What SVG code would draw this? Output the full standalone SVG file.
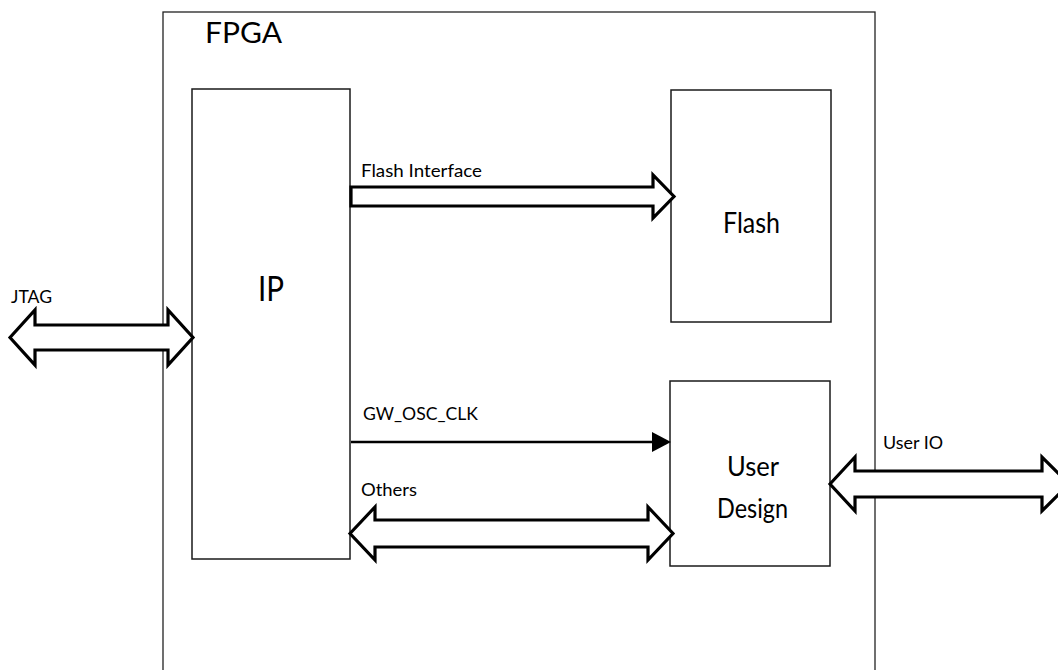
<svg xmlns="http://www.w3.org/2000/svg" width="1058" height="670" viewBox="0 0 1058 670">
<style>
.box{fill:#fff;stroke:#1a1a1a;stroke-width:1.5}
.outer{fill:#fff;stroke:#222;stroke-width:1.3}
.fat{fill:#fff;stroke:#000;stroke-width:3.2;stroke-linejoin:miter}
.lbl{font-family:Lato,"Open Sans","Liberation Sans",sans-serif;fill:#000}
.s{font-size:16.5px}
</style>
<rect width="1058" height="670" fill="#fff"/>
<g id="fpga">
<rect class="outer" x="163" y="12" width="712" height="670"/>
<text class="lbl" x="205" y="43" font-size="29" textLength="77" lengthAdjust="spacingAndGlyphs">FPGA</text>
</g>
<g id="ip">
<rect class="box" x="192" y="89" width="158" height="470"/>
<text class="lbl" x="258" y="301" font-size="35" textLength="26" lengthAdjust="spacingAndGlyphs">IP</text>
</g>
<g id="flash">
<rect class="box" x="671" y="90" width="160" height="232"/>
<text class="lbl" x="723" y="233" font-size="28" textLength="57" lengthAdjust="spacingAndGlyphs">Flash</text>
</g>
<g id="user-design">
<rect class="box" x="670" y="381" width="160" height="185"/>
<text class="lbl" x="727" y="476" font-size="26" textLength="52" lengthAdjust="spacingAndGlyphs">User</text>
<text class="lbl" x="717" y="518" font-size="26" textLength="71" lengthAdjust="spacingAndGlyphs">Design</text>
</g>
<g id="connectors">
<polygon class="fat" points="10,337.5 35,310 35,325 168,325 168,310 193,337.5 168,365 168,350 35,350 35,365"/>
<text class="lbl s" x="11" y="303" textLength="41" lengthAdjust="spacingAndGlyphs">JTAG</text>
<polygon class="fat" points="351,187 653,187 653,175 674,196.5 653,218 653,206 351,206"/>
<text class="lbl s" x="361" y="177" textLength="121" lengthAdjust="spacingAndGlyphs">Flash Interface</text>
<line x1="351" y1="442" x2="654" y2="442" stroke="#000" stroke-width="2.5"/>
<polygon points="652,432 671,442 652,452" fill="#000"/>
<text class="lbl s" x="363" y="420" textLength="115" lengthAdjust="spacingAndGlyphs">GW_OSC_CLK</text>
<polygon class="fat" points="350,533.5 375,507 375,520 648,520 648,507 673,533.5 648,560 648,547 375,547 375,560"/>
<text class="lbl s" x="361" y="496" textLength="56" lengthAdjust="spacingAndGlyphs">Others</text>
<polygon class="fat" points="830,484 855,457 855,471 1042,471 1042,457 1069,484 1042,511 1042,497 855,497 855,511"/>
<text class="lbl s" x="883" y="449" textLength="60" lengthAdjust="spacingAndGlyphs">User IO</text>
</g>
</svg>
